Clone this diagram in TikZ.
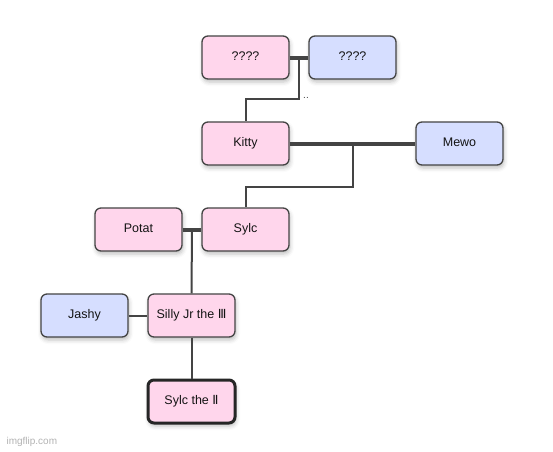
\documentclass[tikz,border=0pt]{standalone}
\usepackage{fontspec}
\setmainfont{Liberation Sans}
\newfontfamily\numfont{DejaVu Sans}
\definecolor{treePink}{RGB}{255,214,236}
\definecolor{treeBlue}{RGB}{214,222,255}
\definecolor{treeLine}{RGB}{68,68,68}
\definecolor{treeText}{RGB}{20,20,20}
\usetikzlibrary{calc,shadows.blur}

\begin{document}
\begin{tikzpicture}[x=1pt, y=-1pt,
    person/.style={rectangle, rounded corners=6pt, draw=treeLine, line width=1.3pt,
                   minimum width=87pt, minimum height=43pt, inner sep=0pt,
                   text height=8pt, text depth=2pt,
                   text=treeText, font=\fontsize{12.5}{14}\selectfont,
                   blur shadow={shadow xshift=1pt, shadow yshift=-3pt, shadow blur radius=4pt, shadow opacity=25}},
    she/.style={person, fill=treePink},
    he/.style={person, fill=treeBlue},
    wed/.style={treeLine, line width=4pt},
    kin/.style={treeLine, line width=2pt}
  ]
  \useasboundingbox (0,0) rectangle (553,451);

  \node[she] (q1)    at (245.5,57.5)  {????};
  \node[he]  (q2)    at (352.5,57.5)  {????};
  \node[she] (kitty) at (245.5,143.5) {Kitty};
  \node[he]  (mewo)  at (459.5,143.5) {Mewo};
  \node[she] (potat) at (138.5,229.5) {Potat};
  \node[she] (sylc)  at (245.5,229.5) {Sylc};
  \node[he]  (jashy) at (84.5,315.5)  {Jashy};
  \node[she] (silly) at (191.5,315.5) {Silly Jr the {\numfont Ⅲ}};
  \node[she, draw=black!85, line width=3pt] (sylc2) at (191.5,401.5) {Sylc the {\numfont Ⅱ}};

  % couples
  \draw[wed] (q1.east) -- (q2.west);
  \draw[wed] (kitty.east) -- (mewo.west);
  \draw[wed] (potat.east) -- (sylc.west);
  \draw[kin] (jashy.east) -- (silly.west);

  % children
  \coordinate (m1) at ($(q1.east)!0.5!(q2.west)$);
  \coordinate (m2) at ($(kitty.east)!0.5!(mewo.west)$);
  \coordinate (m3) at ($(potat.east)!0.5!(sylc.west)$);
  \draw[kin] (m1) -- ++(0,41) -| (kitty.north);
  \node[font=\fontsize{10}{10}\selectfont, text=treeLine, inner sep=0pt] (dots) at (306,98) {..};
  \draw[kin] (m2) -- ++(0,43) -| (sylc.north);
  \draw[kin] (m3) -- (silly.north);
  \draw[kin] (silly.south) -- (sylc2.north);

  \node[anchor=west, text=black!30, font=\fontsize{10}{12}\selectfont] (mark) at (3,442) {imgflip.com};
\end{tikzpicture}
\end{document}
